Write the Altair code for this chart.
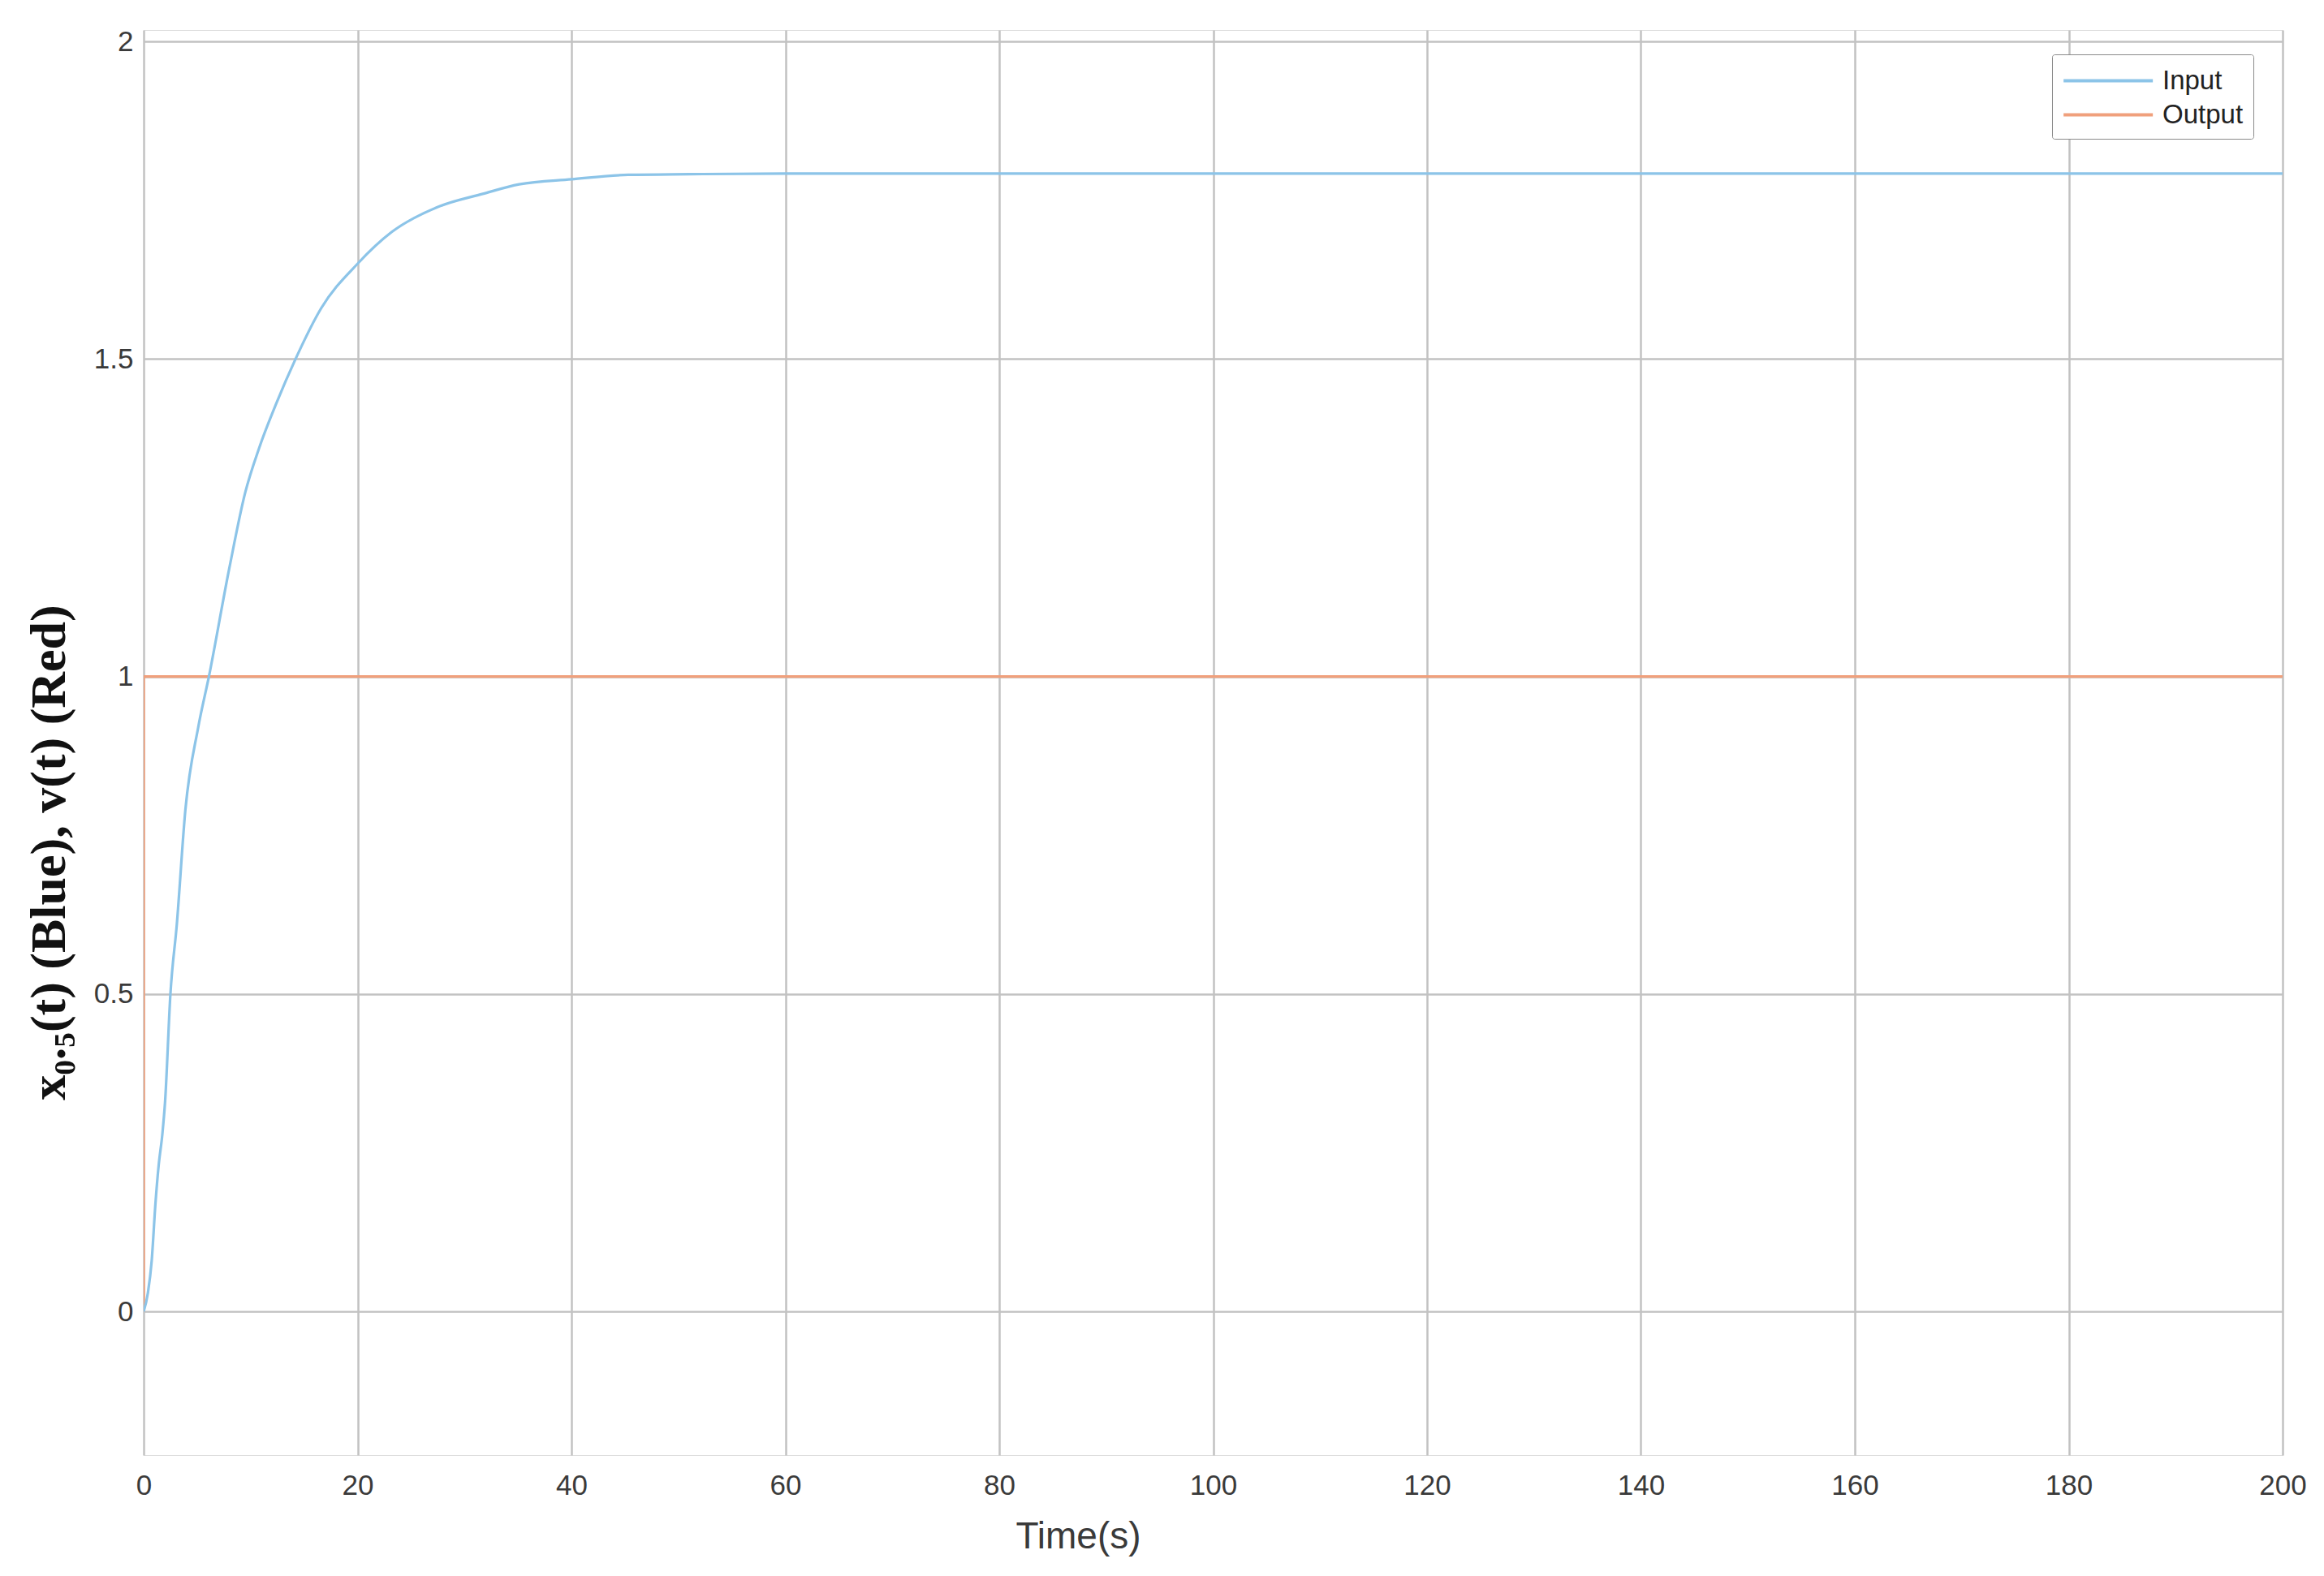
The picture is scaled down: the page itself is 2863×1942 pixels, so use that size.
import altair as alt
import pandas as pd

# Input series (blue)
t_input = [0, 0.4, 0.75, 1.1, 1.4, 1.75, 2.0, 2.5, 3.1, 3.9, 5.1, 6.1, 8.0, 9.5, 10.8,
           12.4, 14.2, 16.6, 20, 23.2, 27.6, 31.7, 35.1, 40, 45.3, 51, 60, 80, 100,
           120, 140, 160, 180, 200]
v_input = [0, 0.03, 0.08, 0.17, 0.23, 0.28, 0.33, 0.50, 0.61, 0.79, 0.92, 1.00, 1.17,
           1.29, 1.36, 1.43, 1.50, 1.58, 1.65, 1.70, 1.74, 1.76, 1.775, 1.783, 1.79,
           1.791, 1.792, 1.792, 1.792, 1.792, 1.792, 1.792, 1.792, 1.792]

# Output series (red/orange): unit step
t_output = [0, 0, 200]
v_output = [0, 1, 1]

series_names = ["Input", "Output"]
series_colors = ["#8cc4e8", "#f0a07c"]

x_ticks = [0, 20, 40, 60, 80, 100, 120, 140, 160, 180, 200]
y_ticks = [0, 0.5, 1, 1.5, 2]

df_in = pd.DataFrame({"t": t_input, "v": v_input, "series": "Input",
                      "order": list(range(len(t_input)))})
df_out = pd.DataFrame({"t": t_output, "v": v_output, "series": "Output",
                       "order": list(range(len(t_output)))})

W, H = 2635, 1756

x_enc = alt.X("t:Q",
              scale=alt.Scale(domain=[0, 200], nice=False, zero=False),
              axis=alt.Axis(values=x_ticks, title="Time(s)", grid=True, ticks=False,
                            domain=False, labelPadding=20, labelFontSize=35,
                            labelFlush=False,
                            labelFont="Liberation Sans", labelColor="#3a3a3a",
                            titleFont="Liberation Sans", titleFontSize=46,
                            titleFontWeight="normal", titleColor="#3a3a3a",
                            titleX=1151, titleY=100, titleBaseline="middle",
                            titleAlign="center",
                            gridColor="#c2c2c2", gridWidth=2.5))
y_enc = alt.Y("v:Q",
              scale=alt.Scale(domain=[-0.226, 2.018], nice=False, zero=False),
              axis=alt.Axis(values=y_ticks, format=".1~f",
                            title="x₀.₅(t) (Blue), v(t) (Red)",
                            grid=True, ticks=False, domain=False, labelPadding=13,
                            labelFontSize=35, labelFont="Liberation Sans",
                            labelColor="#3a3a3a", labelFlush=False,
                            titleFont="Liberation Serif", titleFontSize=62,
                            titleFontWeight="bold", titleColor="#111111",
                            titleAngle=270, titleX=-117, titleY=1013,
                            titleAlign="center", titleBaseline="middle",
                            gridColor="#c2c2c2", gridWidth=2.5))
color_enc = alt.Color("series:N",
                      scale=alt.Scale(domain=series_names, range=series_colors),
                      legend=alt.Legend(title=None, orient="none", legendX=2351,
                                        legendY=30, symbolType="M-1,0H5",
                                        symbolSize=1344, symbolStrokeWidth=4,
                                        labelOffset=83, labelFontSize=33,
                                        labelFont="Liberation Sans",
                                        labelColor="#222222",
                                        strokeColor="#8a8a8a", fillColor="white",
                                        padding=12, rowPadding=4,
                                        cornerRadius=3))

out_line = alt.Chart(df_out).mark_line(strokeWidth=3.2, clip=True).encode(
    x=x_enc, y=y_enc, color=color_enc, order="order:Q")
in_line = alt.Chart(df_in).mark_line(strokeWidth=3.2, clip=True,
                                      interpolate="monotone").encode(
    x=x_enc, y=y_enc, color=color_enc, order="order:Q")

chart = alt.layer(out_line, in_line).properties(
    width=W, height=H,
    autosize=alt.AutoSizeParams(type="none"),
    padding={"left": 169, "top": 29, "right": 40, "bottom": 140},
).configure_view(
    stroke="#a8a8a8", strokeWidth=3
).configure(background="white")

chart.save("out.html", embed_options={"renderer": "svg", "actions": False})
